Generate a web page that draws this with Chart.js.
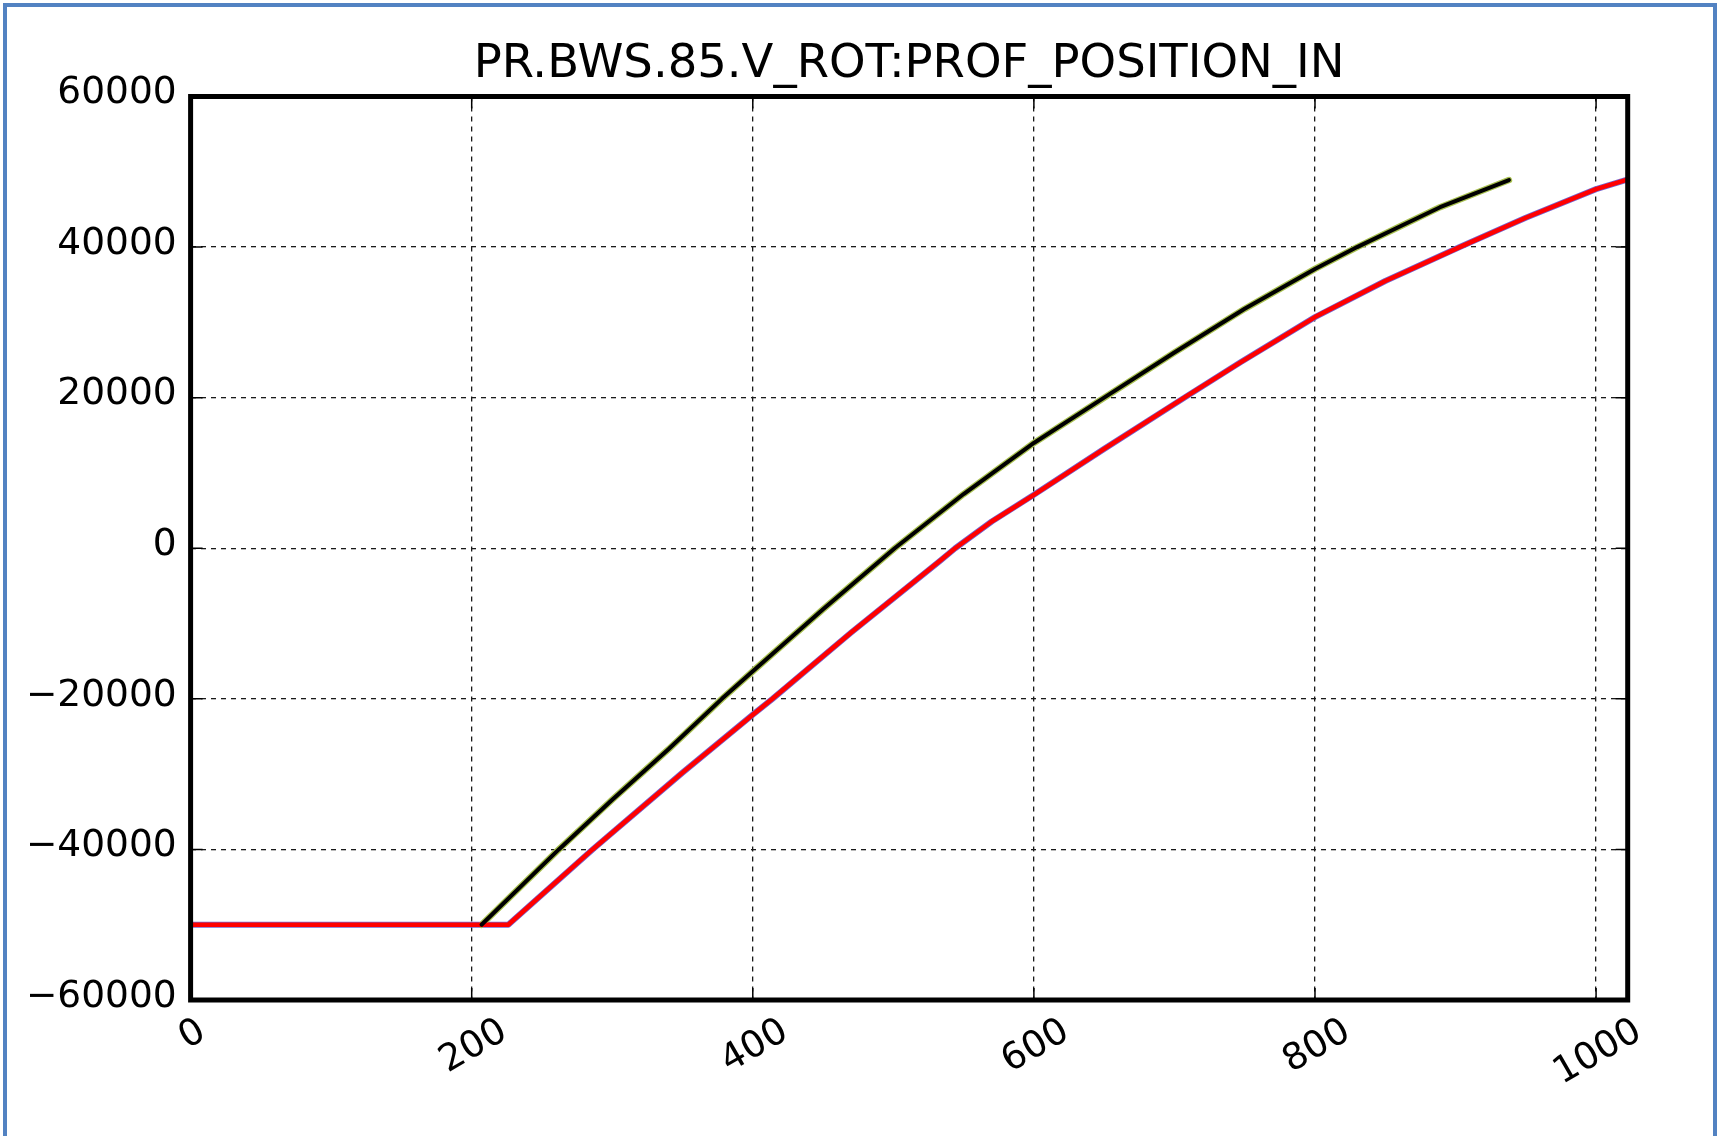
<!DOCTYPE html>
<html>
<head>
<meta charset="utf-8">
<title>PR.BWS.85.V_ROT:PROF_POSITION_IN</title>
<script src="https://cdn.jsdelivr.net/npm/chart.js@4.4.1/dist/chart.umd.min.js"></script>
<style>
    html, body { margin: 0; padding: 0; background: #fff; overflow: hidden; }
    #frame {
        position: absolute; left: 3px; top: 3px; width: 1714px; height: 1200px;
        box-sizing: border-box; border: 4px solid #5282c2; pointer-events: none;
    }
    canvas { position: absolute; left: 0; top: 0; }
</style>
</head>
<body>
<canvas id="profChart" width="1719" height="1136"></canvas>
<div id="frame"></div>
<script>
// values
const xTicks = [0, 200, 400, 600, 800, 1000];
const yTicks = [-60000, -40000, -20000, 0, 20000, 40000, 60000];

// "IN" scan (black, with the other overlapping traces under it)
const scanAX = [207, 262, 300, 340, 378, 400, 450, 501, 550, 600, 650, 700, 750, 800, 830, 860, 889, 938];
const scanAY = [-50000, -40000, -33400, -26700, -20000, -16340, -8100, 0, 7200, 13980, 20000, 26000, 31800, 37100, 40000, 42700, 45300, 48900];

// second scan (red, with the blue trace under it)
const scanBX = [0, 226, 286, 350, 400, 414, 470, 533, 544, 570, 600, 650, 707, 747, 800, 850, 903, 950, 1000, 1021];
const scanBY = [-50000, -50000, -40000, -29800, -22100, -20000, -11200, -1700, 0, 3550, 7100, 13200, 20000, 24700, 30700, 35500, 40000, 43900, 47700, 48900];

function pts(xs, ys) {
    return xs.map((x, i) => ({ x: x, y: ys[i] }));
}

function fmt(v) {
    return v < 0 ? '\u2212' + Math.abs(v) : String(v);
}

const FONT = 'DejaVu Sans';
Chart.defaults.font.family = FONT;
Chart.defaults.color = '#000';

// matplotlib-like frame, inward ticks and rotated x labels
const mplAxes = {
    id: 'mplAxes',
    afterDraw(chart) {
        const ctx = chart.ctx;
        const a = chart.chartArea;
        const xs = chart.scales.x, ys = chart.scales.y;
        ctx.save();
        ctx.strokeStyle = '#000';
        ctx.lineWidth = 1.5;
        ctx.beginPath();
        xTicks.forEach(v => {
            const px = xs.getPixelForValue(v);
            ctx.moveTo(px, a.bottom); ctx.lineTo(px, a.bottom - 12);
            ctx.moveTo(px, a.top); ctx.lineTo(px, a.top + 12);
        });
        yTicks.forEach(v => {
            const py = ys.getPixelForValue(v);
            ctx.moveTo(a.left, py); ctx.lineTo(a.left + 12, py);
            ctx.moveTo(a.right, py); ctx.lineTo(a.right - 12, py);
        });
        ctx.stroke();

        ctx.lineWidth = 5;
        ctx.strokeRect(a.left, a.top, a.right - a.left, a.bottom - a.top);

        // x tick labels, rotated 30deg, centred under tick
        const fs = 37;
        ctx.font = fs + 'px "' + FONT + '"';
        ctx.fillStyle = '#000';
        ctx.textAlign = 'center';
        ctx.textBaseline = 'alphabetic';
        const ang = Math.PI / 6;
        xTicks.forEach(v => {
            const label = fmt(v);
            const w = ctx.measureText(label).width;
            const h = fs * 0.729;
            const cy = a.bottom + 14 + (w * Math.sin(ang) + h * Math.cos(ang)) / 2;
            ctx.save();
            ctx.translate(xs.getPixelForValue(v), cy);
            ctx.rotate(-ang);
            ctx.fillText(label, 0, h / 2);
            ctx.restore();
        });
        ctx.restore();
    }
};

const ctx = document.getElementById('profChart').getContext('2d');
const profChart = new Chart(ctx, {
    type: 'line',
    data: {
        datasets: [
            { label: 'IN black', data: pts(scanAX, scanAY), borderColor: '#000000', borderWidth: 4 },
            { label: 'IN red', data: pts(scanBX, scanBY), borderColor: '#ff0000', borderWidth: 4.5 },
            { label: 'IN yellow', data: pts(scanAX, scanAY), borderColor: '#a8c050', borderWidth: 6.5 },
            { label: 'IN blue', data: pts(scanBX, scanBY), borderColor: '#7466d0', borderWidth: 6 }
        ]
    },
    options: {
        responsive: false,
        animation: false,
        devicePixelRatio: 1,
        elements: {
            point: { radius: 0 },
            line: { tension: 0, fill: false, borderCapStyle: 'round', borderJoinStyle: 'round' }
        },
        layout: {
            padding: { left: 0, top: 0, right: 91.3, bottom: 0 }
        },
        scales: {
            x: {
                type: 'linear',
                min: 0,
                max: 1022.5,
                afterBuildTicks: s => { s.ticks = xTicks.map(v => ({ value: v })); },
                afterFit: s => { s.height = 136; },
                ticks: { display: false },
                grid: { color: '#1a1a1a', lineWidth: 1.3, drawTicks: false },
                border: { display: false, dash: [5, 5] }
            },
            y: {
                type: 'linear',
                min: -60000,
                max: 60000,
                afterBuildTicks: s => { s.ticks = yTicks.map(v => ({ value: v })); },
                afterFit: s => { s.width = 190.6; },
                ticks: {
                    font: { size: 37.5 },
                    color: '#000',
                    padding: 14,
                    labelOffset: -3,
                    callback: v => fmt(v)
                },
                grid: { color: '#1a1a1a', lineWidth: 1.3, drawTicks: false },
                border: { display: false, dash: [5, 5] }
            }
        },
        plugins: {
            legend: { display: false },
            tooltip: { enabled: false },
            title: {
                display: true,
                fullSize: false,
                text: 'PR.BWS.85.V_ROT:PROF_POSITION_IN',
                color: '#000',
                font: { size: 46.5, weight: 'normal', lineHeight: 1.2 },
                padding: { top: 37, bottom: 3.7 }
            }
        }
    },
    plugins: [mplAxes]
});
</script>
</body>
</html>
